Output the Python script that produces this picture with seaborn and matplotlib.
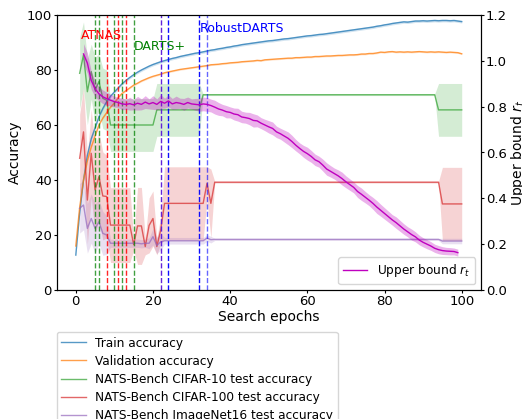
import matplotlib
matplotlib.use("Agg")
import matplotlib.pyplot as plt
import numpy as np
import seaborn as sns

# ---------------- data ----------------
epochs = list(range(0, 101))
train_acc = [12.7, 28, 40, 49, 55, 59, 63, 66, 68.5, 70.5, 72, 73.5, 75, 76.2, 77.3, 78.3, 79.2, 80, 80.7, 81.4,
             82, 82.5, 83, 83.4, 83.8, 84.2, 84.5, 84.9, 85.2, 85.5, 85.8, 86.1, 86.3, 86.6, 86.9, 87.2,
             87.4, 87.7, 87.9, 88.2, 88.4, 88.7, 88.9, 89.2, 89.4, 89.6, 89.8, 90.0, 90.2, 90.4, 90.6, 90.7,
             90.9, 91.1, 91.3, 91.4, 91.6, 91.8, 92.0, 92.2, 92.4, 92.5, 92.7, 92.9, 93.0, 93.2,
             93.4, 93.6, 93.8, 94.0, 94.2, 94.4, 94.6, 94.8, 95.0, 95.2, 95.4, 95.6, 95.9, 96.1, 96.4, 96.6,
             96.9, 97.1, 97.3, 97.5,
             97.4, 97.6, 97.8, 97.8, 97.9, 97.8, 97.9, 98.0, 97.9, 98.0, 98.0, 97.9, 98.0, 97.8, 97.6]
train_band = 0.5
val_acc = [16, 30, 40, 47, 52, 56, 60, 62.5, 64.5, 66.5, 68, 70, 71.5, 72.5, 73.5, 74.5, 75.2, 76, 76.6, 77.2,
           77.7, 78.1, 78.5, 79, 79.3, 79.6, 79.9, 80.2, 80.4, 80.6, 80.8, 81.0, 81.2, 81.4, 81.6, 81.9,
           82.0, 82.1, 82.3, 82.4, 82.6, 82.7, 82.8, 83.0, 83.1, 83.2, 83.3, 83.5, 83.4, 83.7, 83.8, 83.9,
           84.0, 84.1, 84.2, 84.3, 84.3, 84.5, 84.5, 84.6, 84.7, 84.7, 84.9, 84.9, 85.0, 85.1,
           85.1, 85.2, 85.3, 85.3, 85.4, 85.5, 85.5, 85.6, 85.8, 85.8, 86.0, 86.0, 86.2, 86.5, 86.4, 86.6,
           86.7, 86.5, 86.6, 86.5,
           86.6, 86.5, 86.6, 86.7, 86.6, 86.5, 86.6, 86.5, 86.6, 86.5, 86.4, 86.5, 86.4, 86.3, 85.9]
val_band = 0.3

# NATS-Bench test accuracies (values at the epochs where they change)
c10_ep = [1, 2, 3, 4, 5, 6, 7, 8, 9, 20, 21, 32, 33, 93, 94, 100]
c10_acc = [78.8, 85.5, 72.1, 79.4, 72.7, 75.8, 69.7, 69.0, 60.0, 60.0, 65.5, 65.5, 71.0, 71.0, 65.5, 65.5]
c10_hw = [13, 12, 12, 10, 12, 10, 11, 11, 9.6, 9.6, 9.6, 9.6, 0.3, 0.3, 9.6, 9.6]

c100_ep = [1, 2, 3, 4, 5, 6, 7, 8, 9, 14, 15, 16, 17, 18, 19, 20, 21, 22, 23, 33, 34, 35, 36, 94, 95, 100]
c100_acc = [47.9, 57.5, 32.7, 49.7, 36.4, 41.2, 34.2, 34.0, 23.6, 23.6, 16.5, 23.3, 23.3, 15.8, 23.5, 26.0,
            15.8, 21.8, 31.5, 31.5, 38.8, 31.5, 39.2, 39.2, 31.3, 31.3]
c100_hw = [16, 16, 16, 16, 16, 16, 16, 15, 13.6, 13.6, 2, 14, 14, 3, 10, 10, 3, 5, 13.3, 13.3, 6, 12.5,
           0.3, 0.3, 13.3, 13.3]

im_ep = [1, 2, 3, 4, 5, 6, 7, 8, 9, 16, 17, 18, 19, 20, 21, 22, 23, 33, 34, 35, 36, 94, 95, 100]
im_acc = [29.7, 30.9, 22.4, 26.0, 22.4, 24.8, 20.6, 20.0, 17.0, 17.0, 16.8, 17.0, 17.0, 19.4, 16.2, 17.5,
          17.9, 17.9, 18.9, 18.3, 18.4, 18.4, 17.8, 17.8]
im_hw = [9, 9, 9, 9, 9, 8, 8, 7, 1.5, 1.5, 1.5, 1.5, 2, 3, 3, 3, 1.2, 1.2, 1.2, 1.2, 0.4, 0.4, 1.0, 1.0]

# Upper bound r_t (epochs 2..99)
ub_epochs = list(range(2, 100))
ub = [1.03, 0.99, 0.915, 0.878, 0.856, 0.843, 0.835, 0.828, 0.822, 0.818, 0.812, 0.81, 0.813, 0.808,
      0.815, 0.81, 0.82, 0.812, 0.818, 0.81, 0.823, 0.815, 0.825, 0.812, 0.818, 0.815, 0.81, 0.818, 0.812,
      0.81, 0.808, 0.812, 0.81, 0.805, 0.798, 0.79, 0.785, 0.778, 0.775, 0.768, 0.765, 0.755, 0.752, 0.748,
      0.74, 0.738, 0.728, 0.72, 0.712, 0.705, 0.69, 0.682, 0.672, 0.662, 0.648, 0.632, 0.618, 0.605, 0.595,
      0.583, 0.568, 0.56, 0.545, 0.528, 0.518, 0.508, 0.498, 0.486, 0.472, 0.46, 0.448, 0.43, 0.418, 0.405,
      0.392, 0.378, 0.362, 0.348, 0.334, 0.32, 0.306, 0.294, 0.28, 0.266, 0.254, 0.242, 0.232, 0.218, 0.208,
      0.2, 0.192, 0.182, 0.176, 0.172, 0.17, 0.169, 0.168, 0.163]
ub_hw = [0.045, 0.045, 0.04, 0.035, 0.03, 0.03, 0.028, 0.026,
         0.024, 0.022, 0.026, 0.022, 0.028, 0.022, 0.03, 0.024, 0.028, 0.022, 0.03, 0.024, 0.03, 0.022,
         0.026, 0.024, 0.028, 0.022, 0.026, 0.024, 0.022, 0.026, 0.028, 0.03, 0.03, 0.028,
         0.03, 0.028, 0.025, 0.027, 0.024, 0.026, 0.028, 0.025, 0.024, 0.027,
         0.029, 0.026, 0.024, 0.025, 0.027, 0.028, 0.025, 0.024, 0.026, 0.028,
         0.027, 0.025, 0.024, 0.026, 0.028, 0.026, 0.025, 0.024, 0.026, 0.027,
         0.025, 0.024, 0.026, 0.028, 0.026, 0.025, 0.024, 0.026, 0.027, 0.025,
         0.024, 0.026, 0.028, 0.026, 0.025, 0.024, 0.023, 0.025, 0.024, 0.023,
         0.022, 0.024, 0.022, 0.021, 0.02, 0.02, 0.019, 0.018, 0.018, 0.017,
         0.016, 0.016, 0.015, 0.015]

# Selected architectures of each method (epochs)
atnas_epochs = [8, 11, 13]
dartsplus_epochs = [5, 6, 10, 12, 15]
robust_epochs = [22, 24, 32, 34]
method_names = ["ATNAS", "DARTS+", "RobustDARTS"]

# ---------------- plot ----------------
W, H = 522, 419
fig = plt.figure(figsize=(W / 100, H / 100), dpi=100)
ax = fig.add_axes([56.5 / W, 1 - 290 / H, (481 - 56.5) / W, 275 / H])


def band_line(a, x, y, hw, color, label, alpha_line, alpha_band=0.2):
    sns.lineplot(x=x, y=y, ax=a, color=color, lw=1, alpha=alpha_line, label=label)
    y = np.asarray(y, float)
    hw = np.asarray(hw, float) * np.ones_like(y)
    a.fill_between(x, y - hw, y + hw, color=color, alpha=alpha_band, lw=0)


band_line(ax, epochs, train_acc, train_band, "C0", "Train accuracy", 0.75)
band_line(ax, epochs, val_acc, val_band, "C1", "Validation accuracy", 0.75)
band_line(ax, c10_ep, c10_acc, c10_hw, "C2", "NATS-Bench CIFAR-10 test accuracy", 0.7)
band_line(ax, c100_ep, c100_acc, c100_hw, "C3", "NATS-Bench CIFAR-100 test accuracy", 0.7)
band_line(ax, im_ep, im_acc, im_hw, "C4", "NATS-Bench ImageNet16 test accuracy", 0.7)

for e in dartsplus_epochs:
    ax.axvline(e, color="green", ls="--", lw=1, alpha=0.75)
for e in atnas_epochs:
    ax.axvline(e, color="red", ls="--", lw=1, alpha=0.85)
for i, e in enumerate(robust_epochs):
    ax.axvline(e, color="#5b16d8" if i == 0 else "blue", ls="--", lw=1, alpha=0.6 if i == 3 else 0.95)

ax.text(1.2, 92.7, method_names[0], color="red", fontsize=9, ha="left", va="center")
ax.text(15.1, 88.5, method_names[1], color="green", fontsize=9, ha="left", va="center")
ax.text(32.0, 95.0, method_names[2], color="blue", fontsize=9, ha="left", va="center")

ax.set_xlim(-5, 105)
ax.set_ylim(0, 100)
ax.set_yticks(range(0, 101, 20))
ax.set_xticks(range(0, 101, 20))
ax.set_xlabel("Search epochs", fontsize=10, labelpad=1.5)
ax.set_ylabel("Accuracy", fontsize=10, labelpad=3.5)
ax.tick_params(labelsize=9.5, length=2.3, pad=1.2)
ax.legend(loc="upper left", bbox_to_anchor=(0.0, -0.152), borderaxespad=0, fontsize=8.7,
          labelspacing=0.42)

ax2 = ax.twinx()
sns.lineplot(x=ub_epochs, y=ub, ax=ax2, color="m", lw=1, label="Upper bound $r_t$")
u = np.asarray(ub)
uh = np.asarray(ub_hw)
ax2.fill_between(ub_epochs, u - uh, u + uh, color="m", alpha=0.3, lw=0)
ax2.set_ylim(0, 1.2)
ax2.set_ylabel("Upper bound $r_t$", fontsize=10, labelpad=1.5)
ax2.tick_params(labelsize=9.5, length=2.3, pad=1.2)
ax2.legend(loc="lower right", fontsize=8.7)

fig.savefig("out.png", dpi=100)
